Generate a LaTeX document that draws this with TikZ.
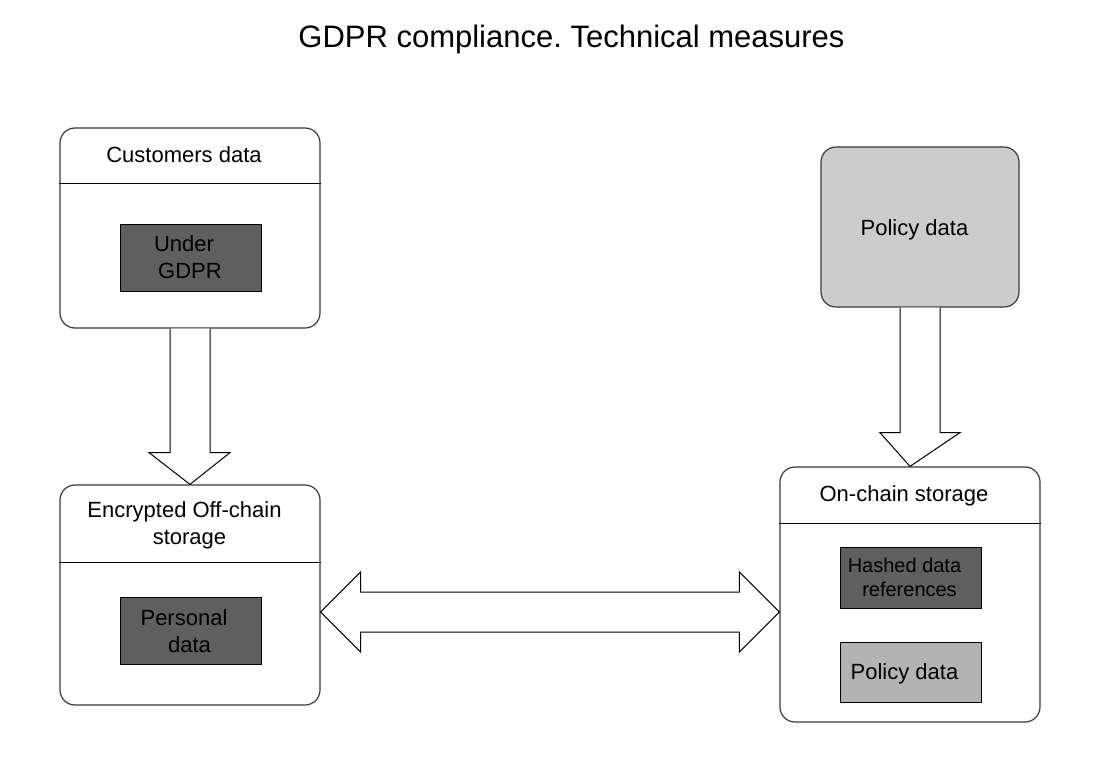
\documentclass[tikz,border=0pt]{standalone}
\usepackage{fontspec}
\setmainfont{Liberation Sans}
\usetikzlibrary{calc}
\frenchspacing
\definecolor{darkfill}{HTML}{5F5F5F}
\definecolor{lightfill}{HTML}{CCCCCC}
\definecolor{midfill}{HTML}{B3B3B3}
\definecolor{edge}{HTML}{3A3A3A}
\tikzset{
  outerbox/.style={draw=edge, line width=1.2pt, rounded corners=15pt, fill=white, inner sep=0pt},
  innerbox/.style={draw=black, line width=1pt, inner sep=0pt},
  divider/.style={draw=black, line width=1pt},
  blockarrow/.style={draw=black, line width=1pt, fill=white, line join=miter},
  txt/.style={font=\fontsize{22}{26}\selectfont, anchor=base, inner sep=0pt},
  smalltxt/.style={font=\fontsize{20}{24}\selectfont, anchor=base, inner sep=0pt},
  titletxt/.style={font=\fontsize{31}{37}\selectfont, anchor=base, inner sep=0pt}
}
\begin{document}
\begin{tikzpicture}[x=1pt,y=-1pt]
\useasboundingbox (0,0) rectangle (1093,763);
\fill[white] (0,0) rectangle (1093,763);

% title
\node[titletxt] (title) at (571.5,47) {GDPR compliance. Technical measures};

% boxes
\node[outerbox, minimum width=260pt, minimum height=200pt] (cust) at (190,228) {};
\node[outerbox, minimum width=260pt, minimum height=220pt] (enc) at (190,595) {};
\node[outerbox, fill=lightfill, minimum width=198pt, minimum height=160pt] (pol) at (920,227) {};
\node[outerbox, minimum width=260pt, minimum height=255pt] (onc) at (910,594.5) {};

% dividers
\draw[divider] (cust.west |- 0,183) -- (cust.east |- 0,183);
\draw[divider] (enc.west |- 0,562) -- (enc.east |- 0,562);
\draw[divider] (onc.west |- 0,523) -- (onc.east |- 0,523);

% inner boxes
\node[innerbox, fill=darkfill, minimum width=141pt, minimum height=67pt] (gdpr) at (190.5,257.5) {};
\node[innerbox, fill=darkfill, minimum width=141pt, minimum height=67pt] (pers) at (190.5,630.5) {};
\node[innerbox, fill=darkfill, minimum width=141pt, minimum height=61pt] (hash) at (910.5,577.5) {};
\node[innerbox, fill=midfill, minimum width=141pt, minimum height=60pt] (polin) at (910.5,672) {};

% texts
\node[txt] (t1) at (184,162) {Customers data};
\node[txt] (t2) at (184,251) {Under};
\node[txt] (t3) at (190,278) {GDPR};
\node[txt] (t4) at (184.5,517) {Encrypted Off-chain};
\node[txt] (t5) at (189.5,544) {storage};
\node[txt] (t6) at (184,625) {Personal};
\node[txt] (t7) at (189.5,652) {data};
\node[txt] (t8) at (914.5,235) {Policy data};
\node[txt] (t9) at (904,501) {On-chain storage};
\node[smalltxt] (t10) at (904.5,572) {Hashed data};
\node[smalltxt] (t11) at (909.5,596) {references};
\node[txt] (t12) at (904.5,679) {Policy data};

% block arrow: customers -> encrypted
\draw[blockarrow]
  ($(cust.south)+(-20,0)$) -- ($(cust.south)+(-20,124)$) -- ($(cust.south)+(-41,124)$)
  -- (enc.north)
  -- ($(cust.south)+(40,124)$) -- ($(cust.south)+(20,124)$) -- ($(cust.south)+(20,0)$);

% block arrow: policy -> on-chain
\draw[blockarrow]
  ($(pol.south)+(-20,0)$) -- ($(pol.south)+(-20,125)$) -- ($(pol.south)+(-40,125)$)
  -- (onc.north)
  -- ($(pol.south)+(40,125)$) -- ($(pol.south)+(20,125)$) -- ($(pol.south)+(20,0)$);

% double block arrow: encrypted <-> on-chain
\coordinate (lt) at ($(enc.east)+(0,17)$);
\coordinate (rt) at ($(onc.west)+(0,17.5)$);
\draw[blockarrow]
  (lt) -- ($(lt)+(40,-40)$) -- ($(lt)+(40,-20)$) -- ($(rt)+(-40,-20)$) -- ($(rt)+(-40,-40)$)
  -- (rt)
  -- ($(rt)+(-40,40)$) -- ($(rt)+(-40,20)$) -- ($(lt)+(40,20)$) -- ($(lt)+(40,40)$) -- cycle;
\end{tikzpicture}
\end{document}
